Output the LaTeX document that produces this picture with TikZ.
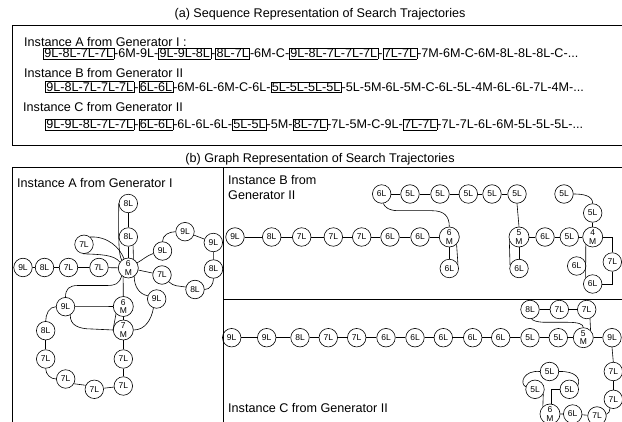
\documentclass[tikz,border=0pt]{standalone}
\usepackage{fontspec}
\setmainfont{Liberation Sans}
\newcommand\bx[1]{\fbox{#1}}
\setlength\fboxsep{0.6pt}
\setlength\fboxrule{0.6pt}
\begin{document}
\begin{tikzpicture}[x=1pt,y=-1pt,
  nd/.style={circle,draw,line width=0.6pt,minimum size=18.5pt,inner sep=0pt,font=\fontsize{8.5}{9}\selectfont},
  ndm/.style={nd,minimum size=20pt,align=center,font=\fontsize{8.5}{8.3}\selectfont},
  ed/.style={line width=0.6pt},
  frm/.style={line width=0.8pt},
  lbl/.style={anchor=base west,inner sep=0pt,font=\fontsize{12.6}{14}\selectfont},
  ttl/.style={anchor=base,inner sep=0pt,font=\fontsize{12.6}{14}\selectfont}]
\useasboundingbox (0,0) rectangle (622,422);
\clip (0,0) rectangle (622,422);
% frames
\draw[frm] (12.5,25.5) rectangle (640,145);
\draw[frm] (12.5,440) -- (12.5,167) -- (640,167);
\draw[frm] (223.3,167) -- (223.3,440);
\draw[frm] (223.3,299) -- (640,299);
% titles
\node[ttl] (ta) at (320,17.5) {(a) Sequence Representation of Search Trajectories};
\node[ttl] (tb) at (320,162.5) {(b) Graph Representation of Search Trajectories};
% sequences
\node[lbl] (la) at (24,46.5) {Instance A from Generator I :};
\node[lbl] (sa) at (43,58) {\bx{9L-8L-7L-7L}-6M-9L-\bx{9L-9L-8L}-\bx{8L-7L}-6M-C-\bx{9L-8L-7L-7L-7L}-\bx{7L-7L}-7M-6M-C-6M-8L-8L-8L-C-...};
\node[lbl] (lb) at (24,77.5) {Instance B from Generator II};
\node[lbl] (sb) at (45,91.5) {\bx{9L-8L-7L-7L-7L}-\bx{6L-6L}-6M-6L-6M-C-6L-\bx{5L-5L-5L-5L}-5L-5M-6L-5M-C-6L-5L-4M-6L-6L-7L-4M-...};
\node[lbl] (lc) at (23,111.5) {Instance C from Generator II};
\node[lbl] (sc) at (45,129) {\bx{9L-9L-8L-7L-7L}-\bx{6L-6L}-6L-6L-6L-\bx{5L-5L}-5M-\bx{8L-7L}-7L-5M-C-9L-\bx{7L-7L}-7L-7L-6L-6M-5L-5L-5L-...};
% graph labels
\node[lbl] (ga) at (17,187.5) {Instance A from Generator I};
\node[lbl] (gb1) at (228,184.5) {Instance B from};
\node[lbl] (gb2) at (228,199.5) {Generator II};
\node[lbl] (gc) at (228,412.5) {Instance C from Generator II};
% ---------- Instance A ----------
\node[nd] (a1) at (23,267.5) {9L};
\node[nd] (a2) at (44.5,267.5) {8L};
\node[nd] (a3) at (68.5,267.5) {7L};
\node[nd] (a4) at (99,267.5) {7L};
\node[ndm] (a5) at (128.3,268) {6\\M};
\node[nd] (a6) at (128.3,237) {8L};
\node[nd] (a7) at (128.3,203.5) {8L};
\node[nd] (a8) at (84,244.3) {7L};
\node[nd] (a9) at (162.5,251) {9L};
\node[nd] (a10) at (185,231.7) {9L};
\node[nd] (a11) at (213.3,242.5) {9L};
\node[nd] (a12) at (213.5,269) {8L};
\node[nd] (a13) at (162,275) {7L};
\node[nd] (a14) at (195,289.5) {8L};
\node[nd] (a15) at (156.7,299) {9L};
\node[ndm] (a16) at (123.3,306.5) {6\\M};
\node[ndm] (a17) at (123.3,330) {7\\M};
\node[nd] (a18) at (65.5,306.7) {9L};
\node[nd] (a19) at (45.7,330.7) {8L};
\node[nd] (a20) at (45.7,359) {7L};
\node[nd] (a21) at (65.7,379) {7L};
\node[nd] (a22) at (94.3,389.3) {7L};
\node[nd] (a23) at (123.3,386) {7L};
\node[nd] (a24) at (123.3,359) {7L};
\draw[ed] (a1)--(a2) (a2)--(a3) (a3)--(a4) (a4)--(a5);
\draw[ed] (a6)--(a7);
\draw[ed] (a6.south)--(a5.north);
\draw[ed] (a6.-60)--(a5.60);
\draw[ed] (a7.west) .. controls (118.5,240) and (118.5,254) .. (a5.130);
\draw[ed] (a8.50) .. controls (108,236) and (120,248) .. (a5.115);
\draw[ed] (a8.-95) .. controls (100,254.5) and (114,254.5) .. (a5.145);
\draw[ed] (a5.30) to[out=30,in=200] (a9.195);
\draw[ed] (a9.north) to[out=90,in=180] (a10.west);
\draw[ed] (a10)--(a11);
\draw[ed] (a11)--(a12);
\draw[ed] (a12.south) to[out=-90,in=0] (a14.east);
\draw[ed] (a13.-45) to[out=-45,in=170] (a14.165);
\draw[ed] (a5)--(a13);
\draw[ed] (a5.-55) to[out=-90,in=170] (a15.160);
\draw[ed] (a15.-110) to[out=-100,in=0] (a17.east);
\draw[ed] (a5.-120)--(a16.north);
\draw[ed] (a5.-130) .. controls (119,284) and (116,285.5) .. (106,285.5) -- (78,285.5) .. controls (69,285.5) and (65.5,289) .. (a18.north);
\draw[ed] (a18)--(a16);
\draw[ed] (a18.-60) .. controls (70,325) and (78,329) .. (92,329) -- (a17.west);
\draw[ed] (a18.west) to[out=180,in=90] (a19.north);
\draw[ed] (a19)--(a20);
\draw[ed] (a20.south) to[out=-90,in=180] (a21.west);
\draw[ed] (a21.-30)--(a22.155);
\draw[ed] (a22)--(a23);
\draw[ed] (a23)--(a24) (a24)--(a17) (a17)--(a16);
\draw[ed] (a16.-135)--(a17.west);
% ---------- Instance B ----------
\node[nd] (b1) at (381.7,194) {6L};
\node[nd] (b2) at (410,194) {5L};
\node[nd] (b3) at (440,194) {5L};
\node[nd] (b4) at (468.3,194) {5L};
\node[nd] (b5) at (492,194) {5L};
\node[nd] (b6) at (517,194) {5L};
\node[nd] (b7) at (564,194) {5L};
\node[nd] (b8) at (592.7,213) {5L};
\node[nd] (b9) at (235,237) {9L};
\node[nd] (b10) at (271.7,237) {8L};
\node[nd] (b11) at (301.7,237) {7L};
\node[nd] (b12) at (333.3,237) {7L};
\node[nd] (b13) at (361.7,237) {7L};
\node[nd] (b14) at (390,237) {6L};
\node[nd] (b15) at (420,237) {6L};
\node[ndm] (b16) at (449.3,237) {6\\M};
\node[nd] (b17) at (449.3,268.5) {6L};
\node[ndm] (b18) at (519,237) {5\\M};
\node[nd] (b19) at (519,268.5) {6L};
\node[nd] (b20) at (545,237) {6L};
\node[nd] (b21) at (569.3,237) {5L};
\node[ndm] (b22) at (592.7,237) {4\\M};
\node[nd] (b23) at (576.7,266) {6L};
\node[nd] (b24) at (612.3,262) {7L};
\node[nd] (b25) at (592.7,284) {6L};
\draw[ed] (b1)--(b2) (b2)--(b3) (b3)--(b4) (b4)--(b5) (b5)--(b6);
\draw[ed] (b6.south)--(b18.north);
\draw[ed] (b1.-80) .. controls (384,206) and (388,210.7) .. (398,210.7) -- (432,210.7) .. controls (444,210.7) and (449.3,216) .. (b16.north);
\draw[ed] (b9)--(b10) (b10)--(b11) (b11)--(b12) (b12)--(b13) (b13)--(b14) (b14)--(b15) (b15)--(b16);
\draw[ed] (b16)--(b17);
\draw[ed] (b16.-45)--(b17.25);
\draw[ed] (b18)--(b19);
\draw[ed] (b18.-160)--(b19.160);
\draw[ed] (b18)--(b20) (b20)--(b21) (b21)--(b22);
\draw[ed] (b7.east) to[out=0,in=90] (b8.north);
\draw[ed] (b8)--(b22);
\draw[ed] (b22.-132)--(b25.138);
\draw[ed] (b25.east) -| (b24.south);
\draw[ed] (b24.north) |- (b22.east);
% ---------- Instance C ----------
\node[nd] (c1) at (231.7,337.7) {9L};
\node[nd] (c2) at (266.7,337.7) {9L};
\node[nd] (c3) at (300,337.7) {8L};
\node[nd] (c4) at (328.3,337.7) {7L};
\node[nd] (c5) at (356.7,337.7) {7L};
\node[nd] (c6) at (386,337.7) {6L};
\node[nd] (c7) at (415,337.7) {6L};
\node[nd] (c8) at (443.3,337.7) {6L};
\node[nd] (c9) at (472.7,337.7) {6L};
\node[nd] (c10) at (500.7,337.7) {6L};
\node[nd] (c11) at (530,337.7) {5L};
\node[nd] (c12) at (558.3,337.7) {5L};
\node[ndm] (c13) at (583.3,337.7) {5\\M};
\node[nd] (c14) at (612,337.7) {9L};
\node[nd] (c15) at (530,309.5) {8L};
\node[nd] (c16) at (559.3,309.5) {7L};
\node[nd] (c17) at (586.7,309.5) {7L};
\node[nd] (c18) at (613.3,371.5) {7L};
\node[nd] (c19) at (613.3,399.3) {7L};
\node[nd] (c20) at (597,416) {7L};
\node[nd] (c21) at (572.7,414) {6L};
\node[ndm] (c22) at (550,414) {6\\M};
\node[nd] (c23) at (549.5,371.5) {5L};
\node[nd] (c24) at (535,389.3) {5L};
\node[nd] (c25) at (569.3,389.3) {5L};
\draw[ed] (c1)--(c2) (c2)--(c3) (c3)--(c4) (c4)--(c5) (c5)--(c6) (c6)--(c7) (c7)--(c8) (c8)--(c9) (c9)--(c10) (c10)--(c11) (c11)--(c12) (c12)--(c13) (c13)--(c14);
\draw[ed] (c15)--(c16) (c16)--(c17);
\draw[ed] (c17.-70)--(c13.45);
\draw[ed] (c15.-80) .. controls (532,320) and (536,322.3) .. (546,322.3) -- (568,322.3) .. controls (578,322.3) and (583.3,324) .. (c13.north);
\draw[ed] (c14.south)--(c18.north);
\draw[ed] (c18)--(c19);
\draw[ed] (c19.-110) to[out=-100,in=10] (c20.10);
\draw[ed] (c20)--(c21) (c21)--(c22);
\draw[ed] (c22.80) |- (c25.west);
\draw[ed] (c24.-30)--(c22.134);
\draw[ed] (c23.west) .. controls (524,370) and (519,383) .. (c24.165);
\draw[ed] (c23.east) .. controls (575,371) and (581,378) .. (c25.25);
\end{tikzpicture}
\end{document}
